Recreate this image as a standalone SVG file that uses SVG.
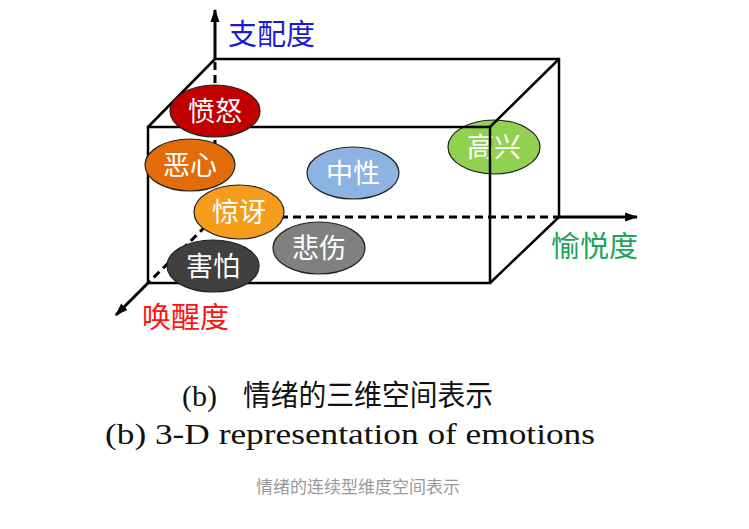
<svg xmlns="http://www.w3.org/2000/svg" width="749" height="529" viewBox="0 0 749 529">
<defs>
<style>
.edge{stroke:#000;stroke-width:2.5;fill:none}
.axis{stroke:#000;stroke-width:3;fill:none}
.dash{stroke:#000;stroke-width:3;fill:none;stroke-dasharray:8 5}
.emo{stroke:#222;stroke-width:1.2}
.lab{font-family:"Noto Sans CJK SC",sans-serif;font-size:27px;fill:#fff;text-anchor:middle}
.axl{font-family:"Noto Sans CJK SC",sans-serif;font-size:29px}
.cap{font-family:"Liberation Serif","Noto Sans CJK SC",serif;font-size:29px;fill:#111}
</style>
<marker id="ah" viewBox="0 0 10 10" refX="9" refY="5" markerWidth="4.4" markerHeight="4.4" orient="auto" markerUnits="strokeWidth">
<path d="M0,1.6 L10,5 L0,8.4 z" fill="#000"/>
</marker>
</defs>
<rect width="749" height="529" fill="#fff"/>

<g id="node-gaoxing">
<ellipse class="emo" cx="494" cy="147" rx="46" ry="27" fill="#92d050"/>
<text class="lab" x="494" y="157">高兴</text>
</g>

<g id="connectors">
<line class="dash" x1="215" y1="62" x2="215" y2="217"/>
<line class="dash" x1="215" y1="217" x2="556" y2="217"/>
<line class="dash" x1="215" y1="217" x2="148" y2="283"/>
<line class="axis" x1="215" y1="60" x2="215" y2="10" marker-end="url(#ah)"/>
<line class="axis" x1="556" y1="217" x2="637" y2="217" marker-end="url(#ah)"/>
<line class="axis" x1="148" y1="283" x2="116" y2="315" marker-end="url(#ah)"/>
<polyline class="edge" points="215,59 559,59 559,217"/>
<line class="edge" x1="148" y1="127" x2="215" y2="59"/>
<line class="edge" x1="490" y1="127" x2="559" y2="59"/>
<line class="edge" x1="490" y1="283" x2="559" y2="217"/>
<rect class="edge" x="148" y="127" width="342" height="156"/>
</g>

<g id="node-fennu">
<ellipse class="emo" cx="215" cy="111" rx="45" ry="26" fill="#c00000"/>
<text class="lab" x="215" y="121">愤怒</text>
</g>
<g id="node-exin">
<ellipse class="emo" cx="190" cy="165" rx="45" ry="26" fill="#e36c0a"/>
<text class="lab" x="190" y="175">恶心</text>
</g>
<g id="node-zhongxing">
<ellipse class="emo" cx="353" cy="173" rx="46" ry="26" fill="#8db3e2"/>
<text class="lab" x="353" y="183">中性</text>
</g>
<g id="node-jingya">
<ellipse class="emo" cx="239" cy="212" rx="45" ry="27" fill="#f59c1c"/>
<text class="lab" x="239" y="222">惊讶</text>
</g>
<g id="node-beishang">
<ellipse class="emo" cx="319" cy="248" rx="46" ry="26" fill="#808080"/>
<text class="lab" x="319" y="258">悲伤</text>
</g>
<g id="node-haipa">
<ellipse class="emo" cx="213" cy="266" rx="46" ry="26" fill="#404040"/>
<text class="lab" x="213" y="276">害怕</text>
</g>

<g id="axis-labels">
<text class="axl" x="228" y="45" fill="#1a1ad2">支配度</text>
<text class="axl" x="551" y="257" fill="#22a35a">愉悦度</text>
<text class="axl" x="142" y="328" fill="#ff1414">唤醒度</text>
</g>

<g id="captions">
<text class="cap" x="182" y="406" textLength="35" lengthAdjust="spacingAndGlyphs">(b)</text>
<text class="cap" x="243" y="406" textLength="250" lengthAdjust="spacingAndGlyphs" font-size="27">情绪的三维空间表示</text>
<text class="cap" x="105" y="444" textLength="490" lengthAdjust="spacingAndGlyphs">(b) 3-D representation of emotions</text>
<text x="358" y="493" font-family="Noto Sans CJK SC,sans-serif" font-size="17" fill="#999" text-anchor="middle">情绪的连续型维度空间表示</text>
</g>
</svg>
